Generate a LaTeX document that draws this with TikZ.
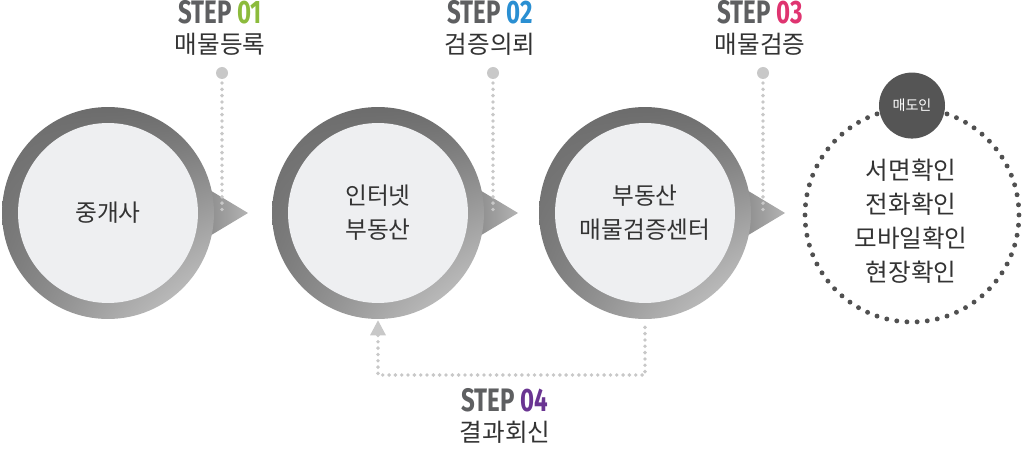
\documentclass[tikz,border=0pt]{standalone}
\usepackage{fontspec}
\setmainfont{Noto Sans CJK KR}
\newfontfamily\stepfont[FakeStretch=0.74]{Fira Sans}
\usetikzlibrary{arrows.meta,positioning,shadings}
\definecolor{ringdark}{HTML}{6C6C6C}
\definecolor{ringmid}{HTML}{7E7E7E}
\definecolor{ringlight}{HTML}{D2D2D2}
\definecolor{pointdark}{HTML}{888888}
\definecolor{pointlight}{HTML}{B4B4B4}
\definecolor{innergray}{HTML}{EEEFF1}
\definecolor{txtgray}{HTML}{333333}
\definecolor{dotlight}{HTML}{C8C8C8}
\definecolor{dotdark}{HTML}{505050}
\definecolor{tagdark}{HTML}{555555}
\definecolor{stepgray}{HTML}{5E5F61}
\definecolor{stepone}{HTML}{8CBB3C}
\definecolor{steptwo}{HTML}{2A8FD2}
\definecolor{stepthree}{HTML}{DF3470}
\definecolor{stepfour}{HTML}{6A3592}

\begin{document}
\begin{tikzpicture}[x=0.02cm,y=-0.02cm,
  bubble/.style={circle,minimum size=4.24cm,inner sep=0pt,shade,
    upper left=ringdark,upper right=ringdark,lower left=ringmid,lower right=ringlight,
    path picture={\fill[innergray] (path picture bounding box.center) circle (1.8cm);},
    font=\fontsize{13.5}{19.3}\selectfont,text=txtgray,align=center},
  pointer/.style={left color=pointdark,right color=pointlight},
  steplabel/.style={font=\stepfont\bfseries\fontsize{18.5}{18.5}\selectfont,text=stepgray,
    inner sep=0pt,anchor=base},
  tasklabel/.style={font=\fontsize{14}{15}\selectfont,text=txtgray,inner sep=0pt},
  stepdots/.style={draw=dotlight,line width=2.2pt,dash pattern=on 0pt off 3.6pt,line cap=round},
  sellerdots/.style={circle,minimum size=4.28cm,draw=dotdark,line width=2.8pt,
    dash pattern=on 0pt off 5.797pt,line cap=round},
  tag/.style={circle,fill=tagdark,minimum size=1.32cm,inner sep=0pt,text=white,
    font=\fontsize{8}{9}\selectfont}]
  \useasboundingbox (0,0) rectangle (1024,449);

  % pointers behind the bubbles
  \foreach \x in {108,378,645}
    \shade[pointer] (\x+95,186) -- (\x+140,213) -- (\x+95,240) -- cycle;

  % bubbles
  \node[bubble] (agent)  at (108,213) {중개사};
  \node[bubble] (portal) at (378,213) {인터넷\\부동산};
  \node[bubble] (verify) at (645,213) {부동산\\매물검증센터};

  % seller
  \node[sellerdots] (seller) at (912,215) {};
  \node[tag] (sellertag) at (seller.north) {매도인};
  \node[align=center,font=\fontsize{14}{19.3}\selectfont,text=txtgray] (checks) at (911,221)
    {서면확인\\전화확인\\모바일확인\\현장확인};

  % steps
  \node[steplabel] (step1) at (220,24) {STEP \textcolor{stepone}{01}};
  \node[tasklabel] (task1) at (220,44) {매물등록};
  \node[steplabel] (step2) at (490,24) {STEP \textcolor{steptwo}{02}};
  \node[tasklabel] (task2) at (490,44) {검증의뢰};
  \node[steplabel] (step3) at (760,24) {STEP \textcolor{stepthree}{03}};
  \node[tasklabel] (task3) at (760,44) {매물검증};
  \node[steplabel] (step4) at (505,411) {STEP \textcolor{stepfour}{04}};
  \node[tasklabel] (task4) at (505,432) {결과회신};

  \coordinate (s1) at (222,73);
  \coordinate (s2) at (493,73);
  \coordinate (s3) at (763,73);
  \coordinate (ret) at (512,375);
  \foreach \s/\n in {s1/agent,s2/portal,s3/verify} {
    \fill[dotlight] (\s) circle (6);
    \draw[stepdots] ([yshift=-0.2cm]\s) -- (\s |- \n.east);
  }

  % result back to the portal
  \draw[stepdots] ([yshift=-0.16cm]verify.south) |- (ret) -| ([yshift=-0.26cm]portal.south);
  \fill[dotlight] ([yshift=-0.02cm]portal.south) -- ++(-0.16cm,-0.3cm) -- ++(0.32cm,0) -- cycle;
\end{tikzpicture}
\end{document}
